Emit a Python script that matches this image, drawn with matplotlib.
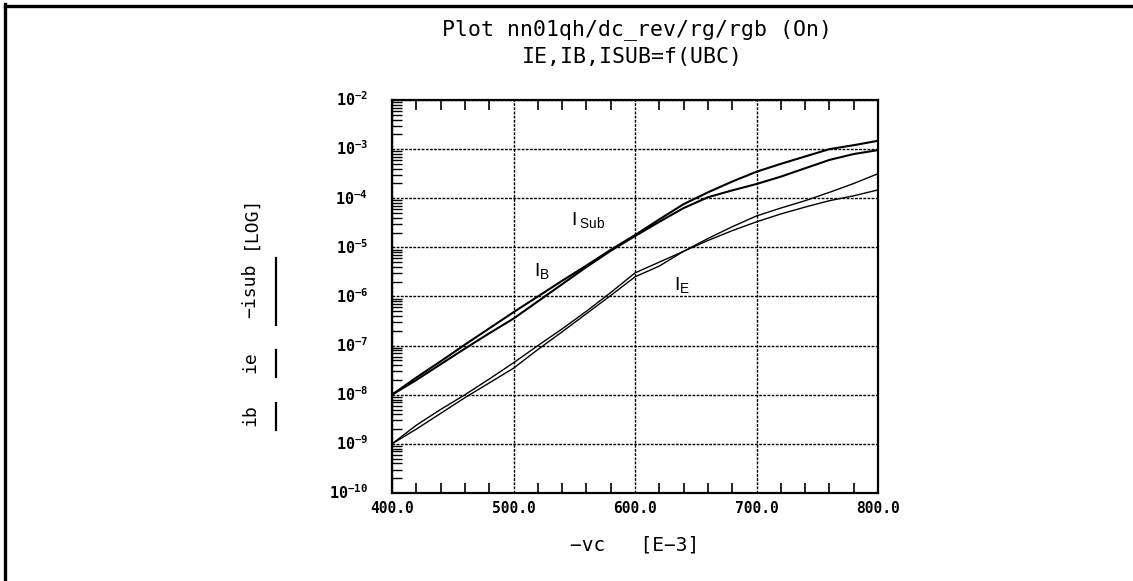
import numpy as np
import matplotlib
matplotlib.use("Agg")
import matplotlib.pyplot as plt
from matplotlib.lines import Line2D
from matplotlib.ticker import FixedLocator, FixedFormatter, NullFormatter

# ---------------- data ----------------
vc = [400, 420, 440, 460, 480, 500, 520, 540, 560, 580, 600,
      620, 640, 660, 680, 700, 720, 740, 760, 780, 800]          # -vc [mV]

# log10 of current [A]
log_isub = [-8.00, -7.65, -7.32, -6.98, -6.65, -6.32, -6.00, -5.68, -5.37, -5.05, -4.75,
            -4.43, -4.12, -3.88, -3.66, -3.46, -3.30, -3.15, -3.00, -2.92, -2.83]
log_ib = [-8.00, -7.70, -7.38, -7.06, -6.75, -6.45, -6.10, -5.75, -5.40, -5.07, -4.77,
          -4.48, -4.20, -3.98, -3.84, -3.71, -3.56, -3.39, -3.22, -3.10, -3.02]
log_ie_a = [-9.00, -8.62, -8.30, -8.00, -7.68, -7.35, -7.00, -6.66, -6.30, -5.92, -5.52,
            -5.30, -5.08, -4.82, -4.58, -4.36, -4.20, -4.05, -3.88, -3.70, -3.50]
log_ie_b = [-9.00, -8.70, -8.38, -8.06, -7.76, -7.46, -7.08, -6.72, -6.35, -5.98, -5.60,
            -5.38, -5.08, -4.86, -4.66, -4.48, -4.32, -4.18, -4.05, -3.95, -3.83]

x_major = [400, 500, 600, 700, 800]
x_labels = ["400.0", "500.0", "600.0", "700.0", "800.0"]
y_decades = [-10, -9, -8, -7, -6, -5, -4, -3, -2]

title_lines = ["Plot nn01qh/dc_rev/rg/rgb (On)", "IE,IB,ISUB=f(UBC)"]
xlabel = "\u2212vc   [E\u22123]"
ylabel_parts = ["ib", "ie", "\u2212isub", "[LOG]"]

# ---------------- figure ----------------
W, H = 1133, 581
fig = plt.figure(figsize=(W / 100, H / 100), dpi=100)
fig.patch.set_facecolor("white")

def fx(px):
    return px / W

def fy(py):
    return 1 - py / H

L, R, T, B = 392, 878, 100, 493
ax = fig.add_axes([fx(L), fy(B), fx(R - L), (B - T) / H])

to_cur = lambda arr: np.power(10.0, np.array(arr))
ax.plot(vc, to_cur(log_isub), color="black", lw=1.5)
ax.plot(vc, to_cur(log_ib), color="black", lw=1.5)
ax.plot(vc, to_cur(log_ie_a), color="black", lw=1.0)
ax.plot(vc, to_cur(log_ie_b), color="black", lw=1.0)

ax.set_yscale("log")
ax.set_xlim(400, 800)
ax.set_ylim(1e-10, 1e-2)

# ticks
ax.xaxis.set_major_locator(FixedLocator(x_major))
ax.xaxis.set_major_formatter(FixedFormatter(x_labels))
ax.xaxis.set_minor_locator(FixedLocator(np.arange(400, 801, 20)))
ax.yaxis.set_major_locator(FixedLocator([10.0 ** d for d in y_decades]))
ax.yaxis.set_major_formatter(FixedFormatter(
    [r"$\mathregular{10^{%d}}$" % d for d in y_decades]))
ax.yaxis.set_minor_locator(FixedLocator(
    [m * 10.0 ** d for d in y_decades[:-1] for m in range(2, 10)]))
ax.yaxis.set_minor_formatter(NullFormatter())

ax.tick_params(axis="x", which="major", length=0, pad=6,
               labelsize=10.5)
ax.tick_params(axis="x", which="minor", direction="in", length=7, width=1.2,
               top=True, bottom=True)
ax.tick_params(axis="y", which="major", length=0, pad=17, labelsize=11)
ax.tick_params(axis="y", which="minor", direction="in", length=7, width=1.0,
               left=True, right=False)
for lab in ax.get_xticklabels() + ax.get_yticklabels():
    lab.set_fontfamily("DejaVu Sans Mono")
    lab.set_fontweight("bold")
for lab in ax.get_yticklabels():
    lab.set_verticalalignment("center")

ax.grid(which="major", color="black", linestyle=(0, (2, 1)), lw=1.0)
for s in ax.spines.values():
    s.set_linewidth(1.6)
    s.set_color("black")

# curve labels
ax.text(547, 10 ** -4.55, r"$\mathregular{I\,_{Sub}}$", fontsize=14,
        family="Liberation Sans", va="baseline", ha="left")
ax.text(516.8, 10 ** -5.585, r"$\mathregular{I_{B}}$", fontsize=14,
        family="Liberation Sans", va="baseline", ha="left")
ax.text(632, 10 ** -5.87, r"$\mathregular{I_{E}}$", fontsize=14,
        family="Liberation Sans", va="baseline", ha="left")

# titles
fig.text(fx(637), fy(30), title_lines[0], ha="center", va="center",
         family="DejaVu Sans Mono", fontsize=15.5)
fig.text(fx(632), fy(57), title_lines[1], ha="center", va="center",
         family="DejaVu Sans Mono", fontsize=15.5)

# x label
fig.text(fx(635), fy(545), xlabel, ha="center", va="center",
         family="DejaVu Sans Mono", fontsize=14)

# y label pieces with legend line samples
ylab_centres = [415, 362, 291, 222]
for txt, cy in zip(ylabel_parts, ylab_centres):
    fig.text(fx(250), fy(cy), txt, rotation=90, ha="center", va="center",
             family="DejaVu Sans Mono", fontsize=13)
legend_spans = [(403, 430), (350, 377), (258, 325)]
for y0, y1 in legend_spans:
    fig.add_artist(Line2D([fx(276), fx(276)], [fy(y0), fy(y1)],
                          transform=fig.transFigure, color="black", lw=1.6))

# outer frame (top and left)
fig.add_artist(Line2D([fx(5), 1.0], [fy(5.5), fy(5.5)],
                      transform=fig.transFigure, color="black", lw=2.4))
fig.add_artist(Line2D([fx(5.5), fx(5.5)], [fy(4.3), 0.0],
                      transform=fig.transFigure, color="black", lw=2.4))

fig.savefig("out.png", dpi=100, facecolor="white")
